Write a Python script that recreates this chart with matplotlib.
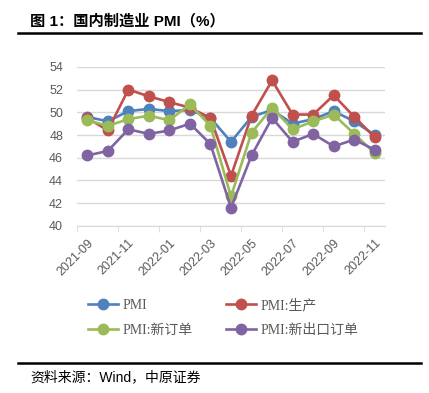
import matplotlib
matplotlib.use("Agg")
import matplotlib.pyplot as plt
from matplotlib.lines import Line2D

plt.rcParams["font.family"] = ["Liberation Sans", "Noto Sans CJK SC", "DejaVu Sans"]

months = ["2021-09", "2021-10", "2021-11", "2021-12", "2022-01", "2022-02", "2022-03",
          "2022-04", "2022-05", "2022-06", "2022-07", "2022-08", "2022-09", "2022-10", "2022-11"]
pmi = [49.6, 49.2, 50.1, 50.3, 50.1, 50.2, 49.5, 47.4, 49.6, 50.2, 49.0, 49.4, 50.1, 49.2, 48.0]
production = [49.5, 48.4, 52.0, 51.4, 50.9, 50.4, 49.5, 44.4, 49.7, 52.8, 49.8, 49.8, 51.5, 49.6, 47.8]
new_orders = [49.3, 48.8, 49.4, 49.7, 49.3, 50.7, 48.8, 42.6, 48.2, 50.4, 48.5, 49.2, 49.8, 48.1, 46.4]
export_orders = [46.2, 46.6, 48.5, 48.1, 48.4, 49.0, 47.2, 41.6, 46.2, 49.5, 47.4, 48.1, 47.0, 47.6, 46.7]

series = [
    ("PMI", pmi, "#4F81BD"),
    ("PMI:生产", production, "#C0504D"),
    ("PMI:新订单", new_orders, "#9BBB59"),
    ("PMI:新出口订单", export_orders, "#8064A2"),
]

GREY = "#595959"
fig = plt.figure(figsize=(4.29, 3.93), dpi=100)
ax = fig.add_axes([0.1795, 0.425, 0.718, 0.405])

x = list(range(len(months)))
for lab, vals, col in series:
    ax.plot(x, vals, color=col, lw=1.9, marker="o", ms=7.5, label=lab, zorder=3)

ax.set_xlim(-0.5, len(months) - 0.5)
ax.set_ylim(40, 54)
ax.set_yticks(range(40, 55, 2))
ax.grid(axis="y", color="#D9D9D9", lw=1, zorder=0)
ax.set_xticks(x[::2])
ax.set_xticklabels(months[::2], rotation=45, ha="right", rotation_mode="anchor",
                   fontsize=9, color=GREY)
ax.set_xticks([i - 0.5 for i in range(0, len(months), 2)], minor=True)
ax.tick_params(axis="x", which="major", length=0, pad=8)
ax.tick_params(axis="x", which="minor", length=4, color="#D9D9D9", direction="out")
ax.tick_params(axis="y", length=0, labelsize=9, labelcolor=GREY, pad=10)
for s in ["top", "right", "left"]:
    ax.spines[s].set_visible(False)
ax.spines["bottom"].set_color("#D9D9D9")

# legend fills column-wise, so order gives rows: PMI / 生产, 新订单 / 新出口订单
order = [0, 2, 1, 3]
handles = [Line2D([0], [0], color=series[i][2], lw=1.9, marker="o", ms=7.5) for i in order]
labels = [series[i][0] for i in order]
leg = fig.legend(handles, labels, ncol=2, loc="upper left", bbox_to_anchor=(0.175, 0.272),
                 frameon=False, handlelength=2.2, handletextpad=0.3, columnspacing=2.4,
                 labelspacing=0.85,
                 prop={"family": ["Liberation Serif", "Noto Sans CJK SC"], "size": 10})
for t in leg.get_texts():
    t.set_color(GREY)

fig.text(0.07, 0.945, "图 1：国内制造业 PMI（%）", fontsize=11, fontweight="bold",
         ha="left", va="center")
fig.add_artist(Line2D([0.042, 0.982], [0.916, 0.916], color="black", lw=1.8))
fig.add_artist(Line2D([0.042, 0.982], [0.076, 0.076], color="black", lw=1.8))
fig.text(0.07, 0.04, "资料来源：Wind，中原证券", fontsize=10, ha="left", va="center")

fig.savefig("out.png", dpi=100)
